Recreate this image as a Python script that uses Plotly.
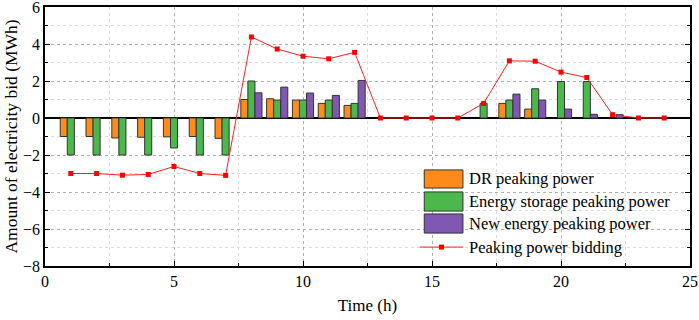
import plotly.graph_objects as go

hours = list(range(1, 25))
dr_power = [-1.0, -1.0, -1.08, -1.04, -1.02, -1.0, -1.1, 1.0, 1.04, 0.97, 0.79, 0.68,
            None, None, None, None, None, 0.79, 0.48, None, None, None, None, None]
storage_power = [-2.0, -2.0, -2.0, -2.0, -1.62, -2.0, -2.0, 2.0, 0.97, 0.97, 0.97, 0.79,
                 None, None, None, None, 0.79, 0.97, 1.58, 1.97, 1.97, None, None, None]
new_energy_power = [None, None, None, None, None, None, None, 1.36, 1.67, 1.35, 1.22, 2.03,
                    None, None, None, None, None, 1.29, 0.97, 0.48, 0.2, 0.18, None, None]
bidding = [-3.0, -3.0, -3.09, -3.05, -2.62, -3.0, -3.1, 4.38, 3.73, 3.34, 3.2, 3.55,
           0.0, 0.0, 0.0, 0.0, 0.79, 3.09, 3.07, 2.48, 2.19, 0.18, 0.0, 0.0]

series_names = ["DR peaking power", "Energy storage peaking power",
                "New energy peaking power", "Peaking power bidding"]
bar_colors = ["#FF8C1A", "#4CB84C", "#8157B4"]
line_color = "#FF2020"

FONT = "Liberation Serif"
edge = dict(color="#333333", width=1)

fig = go.Figure()
for vals, name, col in zip([dr_power, storage_power, new_energy_power], series_names[:3], bar_colors):
    fig.add_trace(go.Bar(x=hours, y=vals, name=name, showlegend=False,
                         marker=dict(color=col, line=edge)))
fig.add_trace(go.Scatter(x=hours, y=bidding, name=series_names[3], showlegend=False,
                         mode="lines+markers",
                         line=dict(color=line_color, width=1),
                         marker=dict(symbol="square", size=5, color="#FF0000")))

axis_common = dict(
    showline=True, linecolor="black", linewidth=1.5,
    ticks="inside", ticklen=5, tickcolor="black", automargin=False,
    ticklabeloverflow="allow",
    showgrid=True, gridcolor="#b0b0b0", griddash="3px,3px", gridwidth=1,
    tickfont=dict(family=FONT, size=16, color="black"),
)

# custom legend (paper coordinates), placed in lower right of the plot area
shapes = []
annotations = []
sw_x0, sw_x1 = 0.588, 0.648
rows = [(0.371, 0.301), (0.286, 0.212), (0.201, 0.127)]
for (y1, y0), name, col in zip(rows, series_names[:3], bar_colors):
    shapes.append(dict(type="rect", xref="paper", yref="paper", x0=sw_x0, x1=sw_x1,
                       y0=y0, y1=y1, fillcolor=col, line=dict(color="#333333", width=1)))
    annotations.append(dict(xref="paper", yref="paper", x=0.655, y=(y0 + y1) / 2,
                            text=name, showarrow=False, xanchor="left", yanchor="middle",
                            font=dict(family=FONT, size=16.5, color="black")))
ly = 0.073
shapes.append(dict(type="line", xref="paper", yref="paper", x0=0.581, x1=0.648,
                   y0=ly, y1=ly, line=dict(color=line_color, width=1)))
shapes.append(dict(type="rect", xref="paper", yref="paper", x0=0.6107, x1=0.6187,
                   y0=ly - 0.0097, y1=ly + 0.0097, fillcolor="#FF0000", line=dict(width=0)))
annotations.append(dict(xref="paper", yref="paper", x=0.655, y=ly,
                        text=series_names[3], showarrow=False, xanchor="left", yanchor="middle",
                        font=dict(family=FONT, size=16.5, color="black")))

fig.update_layout(
    width=699, height=320,
    margin=dict(l=45, r=9, t=7, b=54),
    paper_bgcolor="white", plot_bgcolor="white",
    barmode="group", bargap=0.18, bargroupgap=0,
    font=dict(family=FONT, size=16, color="black"),
    xaxis=dict(range=[0, 25], dtick=5, tick0=0, mirror=True,
               zeroline=False,
               minor=dict(dtick=2.5, ticks="inside", ticklen=3, tickcolor="black",
                          showgrid=True, gridcolor="#dcdcdc", griddash="dot"),
               title=dict(text="Time (h)", font=dict(family=FONT, size=17), standoff=10),
               **axis_common),
    yaxis=dict(range=[-8, 6], dtick=2, tick0=0, mirror="ticks",
               zeroline=True, zerolinecolor="black", zerolinewidth=1.5,
               minor=dict(dtick=1, ticks="inside", ticklen=3, tickcolor="black",
                          showgrid=True, gridcolor="#dcdcdc", griddash="dot"),
               title=dict(text="Amount of electricity bid (MWh)",
                          font=dict(family=FONT, size=17.5), standoff=1),
               **axis_common),
    shapes=shapes,
    annotations=annotations,
    showlegend=False,
)

fig.write_html("out.html", config={"displayModeBar": False},
               post_script="document.body.style.margin='0';document.body.style.overflow='hidden';")
